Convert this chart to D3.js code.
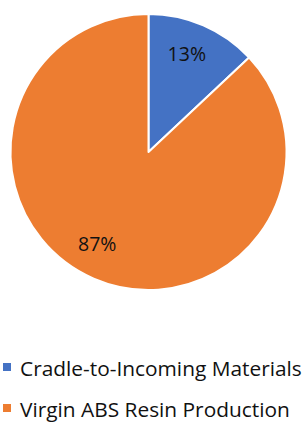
<!DOCTYPE html>
<html>
<head>
<meta charset="utf-8">
<script src="https://cdn.jsdelivr.net/npm/d3@7"></script>
<style>
  html, body { margin: 0; padding: 0; background: #fff; }
  svg { display: block; }
</style>
</head>
<body>
<svg id="chart" width="305" height="424"></svg>
<script>
const categories = ["Cradle-to-Incoming Materials", "Virgin ABS Resin Production"];
const values = [13, 87];
const labels = ["13%", "87%"];
const colors = ["#4472C4", "#ED7D31"];

const svg = d3.select("#chart");
const cx = 148.5, cy = 152, r = 138;

const pie = d3.pie().sort(null).value(d => d)(values);
const arc = d3.arc().innerRadius(0).outerRadius(r);
const labelArc = d3.arc().innerRadius(104).outerRadius(104);

const g = svg.append("g").attr("transform", `translate(${cx},${cy})`);
g.selectAll("path").data(pie).join("path")
  .attr("d", arc)
  .attr("fill", (d, i) => colors[i])
  .attr("stroke", "#fff")
  .attr("stroke-width", 2)
  .attr("stroke-linejoin", "round");

const labelOffsets = [[-3, -2], [-10, -3]];
g.selectAll("text").data(pie).join("text")
  .attr("x", (d, i) => labelArc.centroid(d)[0] + labelOffsets[i][0])
  .attr("y", (d, i) => labelArc.centroid(d)[1] + labelOffsets[i][1])
  .attr("dy", "0.35em")
  .attr("text-anchor", "middle")
  .attr("font-family", "'Open Sans', sans-serif")
  .attr("font-size", 19.5)
  .attr("fill", "#111")
  .text((d, i) => labels[i]);

// Legend
const legend = svg.append("g");
const baselines = [376, 417];
const items = legend.selectAll("g").data(categories).join("g");
items.append("rect")
  .attr("x", 3)
  .attr("y", (d, i) => baselines[i] - 13)
  .attr("width", 8)
  .attr("height", 8)
  .attr("fill", (d, i) => colors[i]);
const texts = items.append("text")
  .attr("x", 20)
  .attr("y", (d, i) => baselines[i])
  .attr("font-family", "'Open Sans', sans-serif")
  .attr("font-size", 20)
  .attr("fill", "#111")
  .text(d => d);
// fit font size so the first legend text spans the same width as the reference
const w0 = texts.nodes()[0].getComputedTextLength();
const fs = 20 * 282 / w0;
texts.attr("font-size", fs);
</script>
</body>
</html>
